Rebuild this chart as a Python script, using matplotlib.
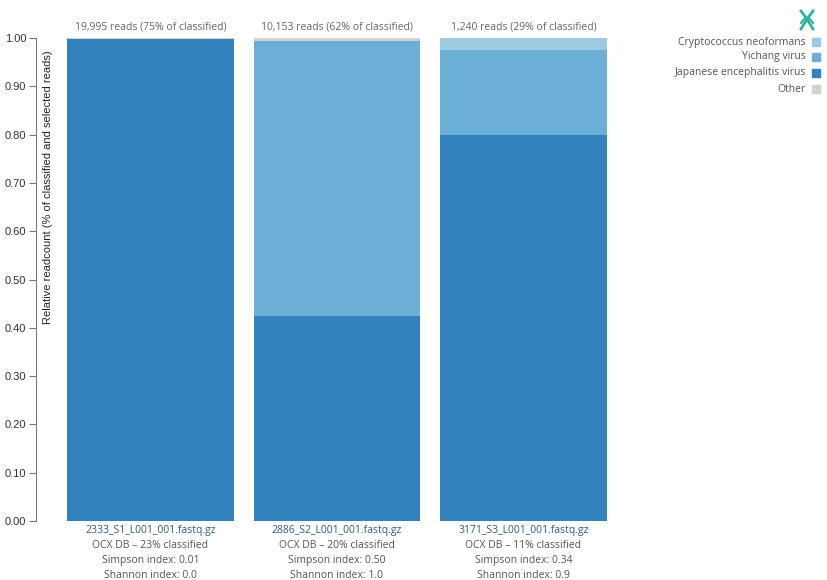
import matplotlib
matplotlib.use("Agg")
import matplotlib.pyplot as plt
from matplotlib.patches import Rectangle
import numpy as np

# data
samples = ['2333_S1_L001_001.fastq.gz', '2886_S2_L001_001.fastq.gz', '3171_S3_L001_001.fastq.gz']
read_labels = ['19,995 reads (75% of classified)', '10,153 reads (62% of classified)',
               '1,240 reads (29% of classified)']
db_labels = ['OCX DB \u2013 23% classified', 'OCX DB \u2013 20% classified', 'OCX DB \u2013 11% classified']
simpson = ['0.01', '0.50', '0.34']
shannon = ['0.0', '1.0', '0.9']

species = ['Japanese encephalitis virus', 'Yichang virus', 'Cryptococcus neoformans', 'Other']
jev = [0.998, 0.424, 0.800]
yichang = [0.000, 0.570, 0.175]
crypto = [0.000, 0.000, 0.025]
other = [0.002, 0.006, 0.000]
colors = ['#3182bd', '#6baed6', '#9ecae1', '#d4d2cb']

text_font = ['Open Sans', 'DejaVu Sans']
tick_font = ['Liberation Sans', 'DejaVu Sans']

fig = plt.figure(figsize=(8.28, 5.8), dpi=100)
ax = fig.add_axes([36 / 828, 1 - 521 / 580, (607 - 36) / 828, (521 - 38) / 580])

x = np.arange(len(samples))
width = 0.895
bottom = np.zeros(len(samples))
for vals, col in zip([jev, yichang, crypto, other], colors):
    ax.bar(x, vals, width=width, bottom=bottom, color=col, linewidth=0)
    bottom += np.array(vals)

ax.set_xlim(-0.614, 2.448)
ax.set_ylim(0, 1)
ax.set_yticks(np.arange(0, 1.01, 0.1))
ax.set_yticklabels(['%.2f' % v for v in np.arange(0, 1.01, 0.1)], fontfamily=tick_font, fontsize=8, color='#333333')
ax.set_xticks([])
for s in ['top', 'right', 'bottom']:
    ax.spines[s].set_visible(False)
ax.spines['left'].set_color('#777777')
ax.tick_params(axis='y', length=5, width=0.8, color='#777777', pad=2)

ax.text(0.021, 0.975, 'Relative readcount (% of classified and selected reads)', transform=ax.transAxes,
        rotation=90, ha='center', va='top', fontsize=8, fontfamily=tick_font, color='#222222')

# labels above and below each bar
px = 1.0 / 483  # one pixel in data units on y
for i in range(len(samples)):
    ax.text(x[i], 1.012, read_labels[i], ha='center', va='bottom', fontsize=7.5,
            fontfamily=text_font, color='#666666')
    lines = [(samples[i], '#2f5d80'), (db_labels[i], '#555555'),
             ('Simpson index: ' + simpson[i], '#555555'), ('Shannon index: ' + shannon[i], '#555555')]
    for j, (t, c) in enumerate(lines):
        ax.text(x[i], -(10 + j * 14.7) * px, t, ha='center', va='center', fontsize=7.5,
                fontfamily=text_font, color=c, clip_on=False)

# legend, top right
leg_y = [42, 57, 73, 89]
leg_order = [2, 1, 0, 3]
for yy, k in zip(leg_y, leg_order):
    fig.text(806 / 828, 1 - yy / 580, species[k], ha='right', va='center', fontsize=7.5,
             fontfamily=text_font, color='#555555')
    fig.patches.append(Rectangle((812 / 828, 1 - (yy + 4) / 580), 8 / 828, 8 / 580,
                                 transform=fig.transFigure, color=colors[k], figure=fig))

# small logo
lx, ly = 807, 20
teal = '#2bb3a0'
for dx in (-1, 1):
    fig.lines.append(plt.Line2D([(lx + dx * 6) / 828, lx / 828, (lx + dx * 6) / 828],
                                [1 - (ly - 9) / 580, 1 - (ly - 1) / 580, 1 - (ly + 9) / 580],
                                transform=fig.transFigure, color=teal, linewidth=2))
    fig.lines.append(plt.Line2D([(lx + dx * 2) / 828, (lx + dx * 6) / 828],
                                [1 - (ly - 2) / 580, 1 - (ly + 3) / 580],
                                transform=fig.transFigure, color=teal, linewidth=1.5))

fig.savefig('out.png', dpi=100)
